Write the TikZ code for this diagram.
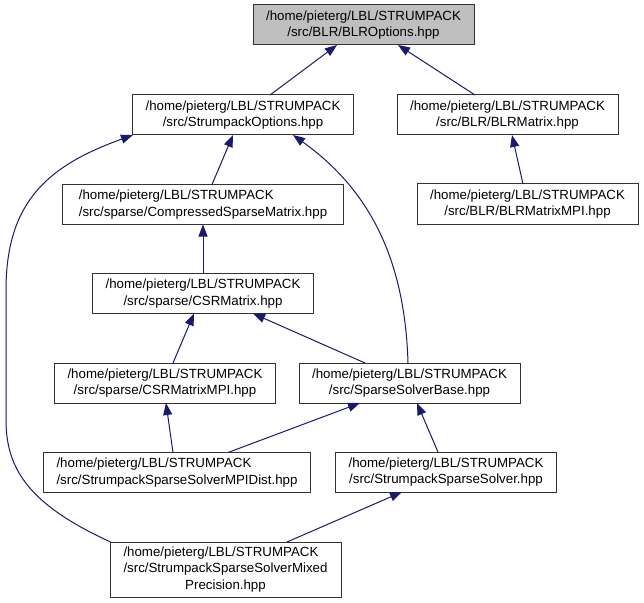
\documentclass[tikz,border=0pt]{standalone}
\usepackage{fontspec}
\setmainfont{Liberation Sans}
\usetikzlibrary{arrows.meta}
\definecolor{edgeblue}{HTML}{191970}
\definecolor{topgrey}{HTML}{BFBFBF}
\definecolor{boxline}{HTML}{333333}
\newcommand{\twoc}[2]{\begin{tabular}{@{}c@{}}#1\\#2\end{tabular}}
\newcommand{\twol}[2]{\begin{tabular}{@{}l@{}}#1\\#2\end{tabular}}
\tikzset{
  filebox/.style={draw=boxline, line width=1bp, fill=white, inner sep=0pt, outer sep=0pt,
    minimum width=221bp, minimum height=40bp,
    font=\fontsize{13.3bp}{16.5bp}\selectfont},
  topbox/.style={filebox, fill=topgrey},
  edge/.style={draw=edgeblue, line width=1bp,
    -{Triangle[length=12bp,width=9bp]}},
  x=1bp, y=-1bp
}
\begin{document}
\begin{tikzpicture}
\useasboundingbox (0,0) rectangle (644,603);
\path[fill=white] (0,0) rectangle (644,603);

\node[topbox] (blro) at (363.5,25) {\twoc{/home/pieterg/LBL/STRUMPACK}{/src/BLR/BLROptions.hpp}};
\node[filebox] (so) at (243,115) {\twoc{/home/pieterg/LBL/STRUMPACK}{/src/StrumpackOptions.hpp}};
\node[filebox] (blrm) at (507.5,115) {\twoc{/home/pieterg/LBL/STRUMPACK}{/src/BLR/BLRMatrix.hpp}};
\node[filebox, minimum width=280bp] (csm) at (203,204.5) {\twol{/home/pieterg/LBL/STRUMPACK}{/src/sparse/CompressedSparseMatrix.hpp}};
\node[filebox] (blrmpi) at (527.5,204) {\twoc{/home/pieterg/LBL/STRUMPACK}{/src/BLR/BLRMatrixMPI.hpp}};
\node[filebox] (csr) at (203,293.5) {\twoc{/home/pieterg/LBL/STRUMPACK}{/src/sparse/CSRMatrix.hpp}};
\node[filebox] (csrmpi) at (165,383) {\twoc{/home/pieterg/LBL/STRUMPACK}{/src/sparse/CSRMatrixMPI.hpp}};
\node[filebox] (ssb) at (409.5,383) {\twoc{/home/pieterg/LBL/STRUMPACK}{/src/SparseSolverBase.hpp}};
\node[filebox, minimum width=266bp] (mpid) at (177,472.5) {\twol{/home/pieterg/LBL/STRUMPACK}{/src/StrumpackSparseSolverMPIDist.hpp}};
\node[filebox] (sss) at (446,472) {\twoc{/home/pieterg/LBL/STRUMPACK}{/src/StrumpackSparseSolver.hpp}};
\node[filebox, minimum width=231bp, minimum height=55bp] (mixed) at (225.5,569.5)
  {\begin{tabular}{@{}l@{}}/home/pieterg/LBL/STRUMPACK\\/src/StrumpackSparseSolverMixed\\\multicolumn{1}{@{}c@{}}{Precision.hpp}\end{tabular}};

% edges: child -> parent (arrow at parent)
\draw[edge] ([xshift=137.5bp]so.north west) -- ([xshift=84bp]blro.south west);
\draw[edge] ([xshift=78bp]blrm.north west) -- ([xshift=145bp]blro.south west);
\draw[edge] ([xshift=149bp]csm.north west) -- ([xshift=100.5bp]so.south west);
\draw[edge] ([xshift=0.5bp]mixed.north west) .. controls (30,505) and (6,470) .. (6,420)
  -- (6,290) .. controls (6,200) and (50,165) .. ([xshift=0.5bp]so.south west);
\draw[edge] ([xshift=109bp]ssb.north west) .. controls (405,260) and (370,190) .. ([xshift=160.5bp]so.south west);
\draw[edge] ([xshift=106bp]blrmpi.north west) -- ([xshift=115bp]blrm.south west);
\draw[edge] (csr.north) -- (csm.south);
\draw[edge] ([xshift=118.5bp]csrmpi.north west) -- ([xshift=101.5bp]csr.south west);
\draw[edge] ([xshift=66bp]ssb.north west) -- ([xshift=160.5bp]csr.south west);
\draw[edge] ([xshift=129bp]mpid.north west) -- ([xshift=111.5bp]csrmpi.south west);
\draw[edge] ([xshift=184bp]mpid.north west) -- ([xshift=61bp]ssb.south west);
\draw[edge] ([xshift=102.5bp]sss.north west) -- ([xshift=118bp]ssb.south west);
\draw[edge] ([xshift=177bp]mixed.north west) -- ([xshift=66.5bp]sss.south west);
\end{tikzpicture}
\end{document}
